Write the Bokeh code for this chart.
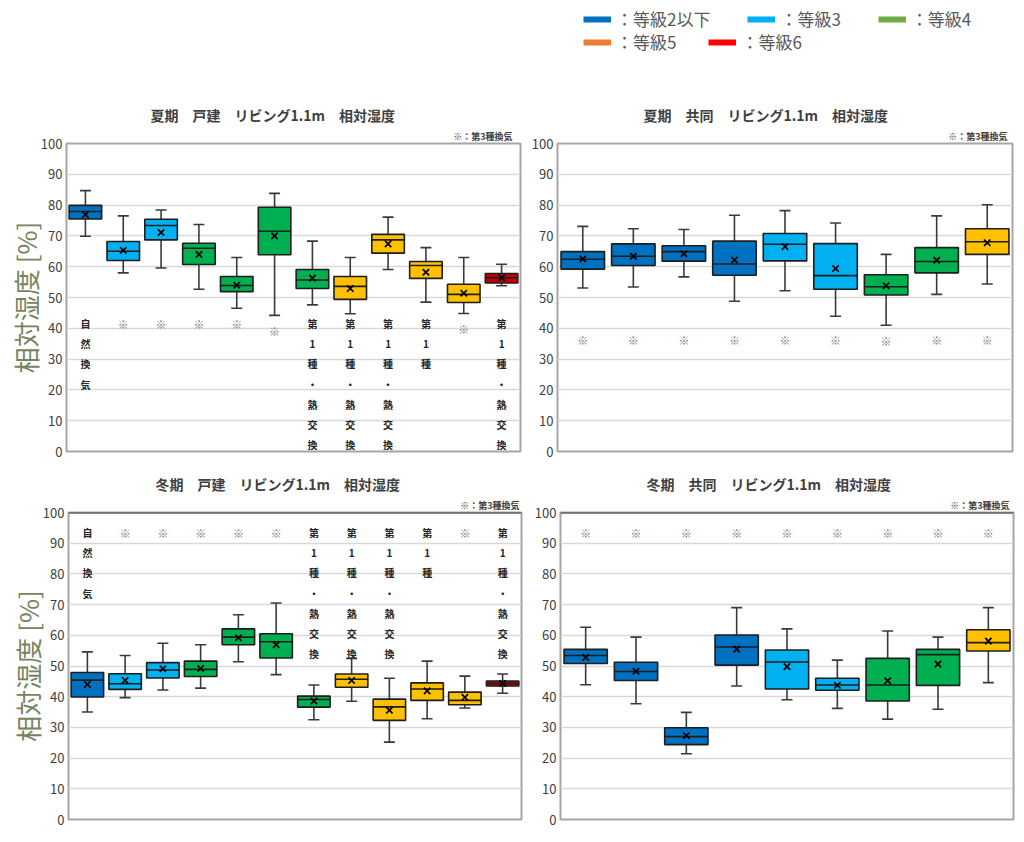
import numpy as np
from bokeh.plotting import figure
from bokeh.layouts import column, row
from bokeh.models import Range1d, FixedTicker, Title, Legend, LegendItem, ColumnDataSource, Span
from bokeh.core.properties import value
from bokeh.embed import file_html
from bokeh.resources import INLINE

FONT = "Noto Sans CJK JP"

# ---------------- data ----------------
# 夏期 戸建
tl_grade = [2, 3, 3, 4, 4, 4, 4, 5, 5, 5, 5, 6]
tl_lo   = [69.9, 58.0, 59.6, 52.7, 46.5, 44.2, 47.6, 44.7, 59.1, 48.5, 44.8, 53.8]
tl_q1   = [75.5, 62.0, 68.7, 60.7, 51.9, 63.9, 52.9, 49.4, 64.4, 56.2, 48.4, 54.7]
tl_med  = [77.9, 65.0, 73.4, 66.0, 53.9, 71.5, 55.7, 53.6, 68.7, 60.4, 51.0, 56.4]
tl_q3   = [79.9, 68.2, 75.4, 67.6, 56.8, 79.3, 59.1, 56.8, 70.5, 61.7, 54.3, 57.8]
tl_hi   = [84.7, 76.5, 78.4, 73.7, 63.0, 83.8, 68.3, 63.0, 76.1, 66.2, 63.0, 60.8]
tl_mean = [76.9, 65.3, 71.1, 64.0, 54.0, 70.0, 56.3, 52.9, 67.4, 58.2, 51.4, 56.4]
detached_notes = ["自然換気", "※", "※", "※", "※", "※", "第1種・熱交換", "第1種・熱交換",
                  "第1種・熱交換", "第1種", "※", "第1種・熱交換"]

# 夏期 共同
tr_grade = [2, 2, 2, 2, 3, 3, 4, 4, 5]
tr_lo   = [53.1, 53.4, 56.7, 48.8, 52.2, 43.9, 41.0, 51.0, 54.4]
tr_q1   = [59.2, 60.4, 61.8, 57.2, 61.9, 52.7, 50.8, 58.0, 64.0]
tr_med  = [62.4, 63.4, 64.9, 60.9, 67.3, 57.1, 53.5, 61.7, 68.1]
tr_q3   = [64.9, 67.4, 66.8, 68.3, 70.8, 67.5, 57.4, 66.2, 72.3]
tr_hi   = [73.1, 72.3, 72.1, 76.7, 78.2, 74.2, 64.0, 76.5, 80.1]
tr_mean = [62.5, 63.4, 64.2, 62.2, 66.5, 59.4, 53.8, 62.1, 67.8]
apartment_notes = ["※"] * 9

# 冬期 戸建
bl_grade = [2, 3, 3, 4, 4, 4, 4, 5, 5, 5, 5, 6]
bl_lo   = [35.0, 39.7, 42.2, 42.8, 51.4, 47.2, 32.5, 38.5, 25.2, 32.8, 36.3, 41.1]
bl_q1   = [39.9, 42.4, 46.1, 46.6, 56.9, 52.6, 36.6, 43.1, 32.3, 38.8, 37.4, 43.5]
bl_med  = [45.4, 44.2, 48.7, 48.9, 59.4, 57.9, 39.1, 45.7, 36.7, 42.5, 38.8, 44.3]
bl_q3   = [47.9, 47.5, 51.1, 51.6, 62.1, 60.5, 40.2, 47.4, 39.2, 44.5, 41.5, 45.1]
bl_hi   = [54.6, 53.4, 57.4, 56.9, 66.7, 70.5, 43.8, 52.5, 46.0, 51.6, 46.7, 47.4]
bl_mean = [44.0, 45.3, 49.1, 49.2, 59.2, 56.9, 38.6, 45.3, 35.6, 41.9, 39.8, 44.3]

# 冬期 共同
br_grade = [2, 2, 2, 2, 3, 3, 4, 4, 5]
br_lo   = [43.9, 37.7, 21.4, 43.5, 39.0, 36.2, 32.7, 35.9, 44.6]
br_q1   = [50.8, 45.3, 24.4, 50.3, 42.5, 42.1, 38.6, 43.7, 54.9]
br_med  = [53.4, 48.2, 27.0, 56.2, 51.3, 43.8, 43.8, 53.7, 57.6]
br_q3   = [55.4, 51.2, 29.9, 60.1, 55.2, 46.0, 52.5, 55.4, 61.8]
br_hi   = [62.6, 59.4, 34.9, 69.0, 62.1, 51.9, 61.4, 59.4, 69.0]
br_mean = [52.8, 48.3, 27.3, 55.5, 49.8, 43.7, 45.2, 50.6, 58.1]

legend_grades = [2, 3, 4, 5, 6]
legend_labels = ["：等級2以下", "：等級3", "：等級4", "：等級5", "：等級6"]
legend_colors = ["#0070C0", "#00B0F0", "#70AD47", "#ED7D31", "#FF0000"]
box_colors = {2: "#0070C0", 3: "#00B0F0", 4: "#00B050", 5: "#FFC000", 6: "#C00000"}

y_ticks = list(range(0, 101, 10))


def panel(title, grade, lo, q1, med, q3, hi, mean, notes, note_top,
          borders, frame_w, frame_h, title_offset, sub_offset, ylabel=None, dark_top=False):
    n = len(grade)
    x = np.arange(1, n + 1)
    half = 0.43
    bl, br, bt, bb = borders
    p = figure(frame_width=frame_w, frame_height=frame_h,
               x_range=Range1d(0.5, n + 0.5), y_range=Range1d(0, 100),
               output_backend="svg", toolbar_location=None, title=None,
               min_border_left=bl, min_border_right=br, min_border_top=bt, min_border_bottom=bb,
               background_fill_color="white", border_fill_color="white")
    p.xaxis.visible = False
    p.xgrid.visible = False
    p.ygrid.grid_line_color = "#d9d9d9"
    p.ygrid.grid_line_width = 1.6
    p.yaxis.ticker = FixedTicker(ticks=y_ticks)
    p.yaxis.axis_line_color = None
    p.yaxis.major_tick_line_color = None
    p.yaxis.minor_tick_line_color = None
    p.yaxis.major_tick_out = 0
    p.yaxis.major_tick_in = 0
    p.yaxis.minor_tick_out = 0
    p.yaxis.minor_tick_in = 0
    p.yaxis.major_label_text_font = FONT
    p.yaxis.major_label_text_font_size = "13px"
    p.yaxis.major_label_text_color = "#404040"
    p.yaxis.major_label_standoff = 4
    if ylabel:
        p.yaxis.axis_label = ylabel
        p.yaxis.axis_label_text_font = FONT
        p.yaxis.axis_label_text_font_size = "26px"
        p.yaxis.axis_label_text_font_style = "normal"
        p.yaxis.axis_label_text_color = "#76845f"
        p.yaxis.axis_label_standoff = -6
    p.outline_line_color = "#a6a6a6"
    p.outline_line_width = 2
    if dark_top:
        p.add_layout(Span(location=100, dimension="width", line_color="#3c3c3c", line_width=2))

    src = ColumnDataSource(dict(
        x=x, lo=lo, q1=q1, med=med, q3=q3, hi=hi, mean=mean,
        x0=x - half, x1=x + half,
        fill=[box_colors[g] for g in grade],
    ))
    wc = "#3a3a3a"
    p.segment(x0="x", y0="q3", x1="x", y1="hi", source=src, line_color=wc, line_width=1.6)
    p.segment(x0="x", y0="lo", x1="x", y1="q1", source=src, line_color=wc, line_width=1.6)
    p.scatter(x="x", y="hi", source=src, marker="dash", size=11, line_color=wc, line_width=1.6)
    p.scatter(x="x", y="lo", source=src, marker="dash", size=11, line_color=wc, line_width=1.6)
    p.vbar(x="x", bottom="q1", top="q3", width=2 * half, source=src,
           fill_color="fill", line_color="#1e1e1e", line_width=1.6)
    p.segment(x0="x0", y0="med", x1="x1", y1="med", source=src, line_color="#1e1e1e", line_width=1.6)
    p.scatter(x="x", y="mean", source=src, marker="x", size=9, line_color="black", line_width=1.7)

    # vertical annotations (below the boxes in summer, above them in winter)
    ny = []
    for lab, l, m in zip(notes, lo, med):
        if lab == "※" and note_top < m:
            ny.append(min(note_top, l - 2.5))
        else:
            ny.append(note_top)
    nsrc = ColumnDataSource(dict(
        x=x, y=ny, text=["\n".join(list(s)) for s in notes],
        color=["#7a7a7a" if s == "※" else "#262626" for s in notes],
        size=["11px" if s == "※" else "10px" for s in notes],
    ))
    p.text(x="x", y="y", text="text", source=nsrc, text_font=value(FONT),
           text_font_size="size", text_font_style="bold", text_align="center",
           text_baseline="top", text_line_height=1.35, text_color="color")

    p.add_layout(Title(text="※：第3種換気", align="right", offset=sub_offset,
                       text_font=FONT, text_font_size="9px", text_font_style="bold",
                       text_color="#404040", standoff=2), "above")
    p.add_layout(Title(text=title, align="left", offset=title_offset,
                       text_font=FONT, text_font_size="14px", text_font_style="bold",
                       text_color="#404040", standoff=4), "above")
    return p


p_tl = panel("夏期　戸建　リビング1.1m　相対湿度", tl_grade, tl_lo, tl_q1, tl_med, tl_q3, tl_hi, tl_mean,
             detached_notes, 44.0, (66, 7, 51, 9), 454, 308, 84, 8, ylabel="相対湿度 [%]")
p_tr = panel("夏期　共同　リビング1.1m　相対湿度", tr_grade, tr_lo, tr_q1, tr_med, tr_q3, tr_hi, tr_mean,
             apartment_notes, 38.8, (30, 12, 51, 9), 455, 308, 86, 5)
p_bl = panel("冬期　戸建　リビング1.1m　相対湿度", bl_grade, bl_lo, bl_q1, bl_med, bl_q3, bl_hi, bl_mean,
             detached_notes, 96.0, (68, 6, 52, 23), 453, 307, 87, 2, ylabel="相対湿度 [%]", dark_top=True)
p_br = panel("冬期　共同　リビング1.1m　相対湿度", br_grade, br_lo, br_q1, br_med, br_q3, br_hi, br_mean,
             apartment_notes, 96.0, (33, 11, 52, 23), 453, 307, 86, 4, dark_top=True)

# legend strip
p_leg = figure(width=1024, height=92, x_range=Range1d(0, 1), y_range=Range1d(0, 1),
               output_backend="svg", toolbar_location=None, title=None, min_border=0,
               outline_line_color=None)
p_leg.axis.visible = False
p_leg.grid.visible = False
items = []
for g, lab, c in zip(legend_grades, legend_labels, legend_colors):
    r = p_leg.line(x=[-5, -4], y=[-5, -5], line_color=c, line_width=6)
    items.append(LegendItem(label=lab, renderers=[r]))


def mk_legend(its, loc, spacing):
    return Legend(items=its, orientation="horizontal", location=loc, spacing=spacing, padding=0, margin=0,
                  border_line_color=None, background_fill_alpha=0, label_text_font=FONT,
                  label_text_font_size="17px", label_text_color="#595959", glyph_width=28,
                  glyph_height=16, label_standoff=5)


p_leg.add_layout(mk_legend(items[:3], (583, 61), 37))
p_leg.add_layout(mk_legend(items[3:], (583, 38), 32))

layout = column(p_leg, row(p_tl, p_tr), row(p_bl, p_br))
open("out.html", "w").write(file_html(layout, INLINE))
